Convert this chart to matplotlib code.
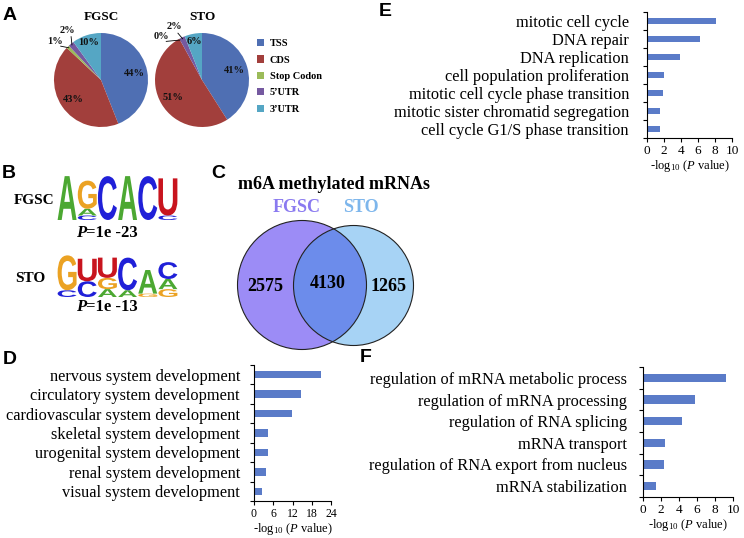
import numpy as np
import matplotlib.pyplot as plt
from matplotlib.patches import Circle, PathPatch, Rectangle
from matplotlib.textpath import TextPath
from matplotlib.font_manager import FontProperties
from matplotlib.transforms import Affine2D

plt.rcParams['font.family'] = 'Liberation Serif'
plt.rcParams['mathtext.fontset'] = 'custom'
plt.rcParams['mathtext.rm'] = 'Liberation Serif'
plt.rcParams['mathtext.it'] = 'Liberation Serif:italic'

# ---- data ----
# A: peak distribution (%)
regions = ['TSS', 'CDS', 'Stop Codon', '5\u2019UTR', '3\u2019UTR']
fgsc_pct = [44, 43, 1, 2, 10]
sto_pct = [41, 51, 0, 2, 6]
region_colors = ['#4F6FB3', '#A23F3C', '#9BBB59', '#7559A0', '#55A6C4']

# B: motifs, letters per position from bottom to top (bits)
fgsc_motif = [[('A', 1.95)],
              [('C', 0.2), ('A', 0.3), ('G', 1.25)],
              [('C', 1.95)],
              [('A', 1.95)],
              [('C', 1.95)],
              [('C', 0.2), ('U', 1.65)]]
sto_motif = [[('C', 0.3), ('G', 1.55)],
             [('C', 0.7), ('U', 1.0)],
             [('A', 0.35), ('G', 0.5), ('U', 0.9)],
             [('A', 0.3), ('C', 1.45)],
             [('G', 0.15), ('A', 1.05)],
             [('G', 0.35), ('A', 0.45), ('C', 0.75)]]
motif_pvals = ['=1e -23', '=1e -13']

# C: venn counts
only_fgsc = 2575
both = 4130
only_sto = 1265

# D, E, F: GO terms, -log10(P)
d_terms = ['nervous system development', 'circulatory system development',
           'cardiovascular system development', 'skeletal system development',
           'urogenital system development', 'renal system development',
           'visual system development']
d_vals = [20.8, 14.6, 11.9, 4.4, 4.3, 3.6, 2.4]

e_terms = ['mitotic cell cycle', 'DNA repair', 'DNA replication',
           'cell population proliferation', 'mitotic cell cycle phase transition',
           'mitotic sister chromatid segregation', 'cell cycle G1/S phase transition']
e_vals = [8.1, 6.2, 3.9, 1.95, 1.9, 1.55, 1.5]

f_terms = ['regulation of mRNA metabolic process', 'regulation of mRNA processing',
           'regulation of RNA splicing', 'mRNA transport',
           'regulation of RNA export from nucleus', 'mRNA stabilization']
f_vals = [9.25, 5.8, 4.3, 2.4, 2.3, 1.4]

W, H = 744, 538
fig = plt.figure(figsize=(W / 100, H / 100), dpi=100)


def px_axes(x0, y0, x1, y1):
    return fig.add_axes([x0 / W, 1 - y1 / H, (x1 - x0) / W, (y1 - y0) / H])


def px_text(x, y, s, **kw):
    kw.setdefault('ha', 'center')
    kw.setdefault('va', 'center')
    return fig.text(x / W, 1 - y / H, s, **kw)


# panel letters
for lab, x, y in [('A', 10, 15), ('B', 9, 174), ('C', 218, 173),
                  ('D', 10, 360), ('E', 385, 12), ('F', 366, 358)]:
    px_text(x, y, lab, family='Liberation Sans', weight='bold', size=14)

# ---- A: pies ----
def draw_pie(ax, vals, shifts):
    wedges, _ = ax.pie(vals, colors=region_colors, startangle=90,
                       counterclock=False, wedgeprops=dict(linewidth=0))
    ax.set_xlim(-1, 1)
    ax.set_ylim(-1, 1)
    for k, (w, v) in enumerate(zip(wedges, vals)):
        mid = np.deg2rad((w.theta1 + w.theta2) / 2)
        if v >= 5:
            r = 0.72 if v >= 20 else 0.84
            ax.text(r * np.cos(mid), r * np.sin(mid), '%d%%' % v, ha='center',
                    va='center', fontsize=7.5, fontweight='bold', color='#111')
        else:
            ang = mid + np.deg2rad(shifts.get(k, 0))
            ax.plot([0.97 * np.cos(mid), 1.12 * np.cos(ang)],
                    [0.97 * np.sin(mid), 1.12 * np.sin(ang)],
                    color='k', lw=0.6, clip_on=False)
            ax.text(1.27 * np.cos(ang), 1.27 * np.sin(ang), '%d%%' % v,
                    ha='center', va='center', fontsize=7.5, fontweight='bold',
                    color='#111')
    return wedges


ax_a1 = px_axes(54, 32, 148, 128)
draw_pie(ax_a1, fgsc_pct, {2: 5, 3: -5})
ax_a2 = px_axes(155, 32, 249, 128)
draw_pie(ax_a2, sto_pct, {2: 14, 3: 2})
px_text(101, 17, 'FGSC', fontsize=9.5, fontweight='bold')
px_text(202, 17, 'STO', fontsize=9.5, fontweight='bold')

handles = [Rectangle((0, 0), 1, 1, fc=c, ec='none') for c in region_colors]
fig.legend(handles, regions, loc='upper left', bbox_to_anchor=(257 / W, 1 - 39 / H),
           frameon=False, borderpad=0, borderaxespad=0, handlelength=0.7,
           handleheight=0.7, handletextpad=0.5, labelspacing=0.68,
           prop=FontProperties(family='Liberation Serif', weight='bold', size=7.5))

# ---- B: motif logos ----
logo_colors = {'A': '#4CA832', 'C': '#2020D8', 'G': '#EBA223', 'U': '#C8141E'}
logo_font = FontProperties(family='Liberation Sans', weight='bold')


def draw_logo(ax, motif):
    for i, stack in enumerate(motif):
        y = 0
        for letter, h in stack:
            tp = TextPath((0, 0), letter, size=1, prop=logo_font)
            bb = tp.get_extents()
            tr = (Affine2D().translate(-bb.x0, -bb.y0)
                  .scale(0.94 / bb.width, h / bb.height).translate(i + 0.03, y))
            ax.add_patch(PathPatch(tr.transform_path(tp), fc=logo_colors[letter], lw=0))
            y += h
    ax.set_xlim(0, len(motif))
    ax.set_ylim(0, 2)
    ax.axis('off')


draw_logo(px_axes(57, 175, 178, 220), fgsc_motif)
draw_logo(px_axes(57, 252, 178, 297), sto_motif)
px_text(34, 200, 'FGSC', fontsize=11, fontweight='bold')
px_text(30, 278, 'STO', fontsize=11, fontweight='bold')
for pv, y in zip(motif_pvals, [233, 307]):
    px_text(86, y, 'P', ha='right', fontsize=12, fontweight='bold', fontstyle='italic')
    px_text(86, y, pv, ha='left', fontsize=12, fontweight='bold')

# ---- C: venn ----
axc = px_axes(228, 215, 425, 355)
axc.set_xlim(228, 425)
axc.set_ylim(355, 215)
axc.axis('off')
cf = Circle((302, 285), 64.5, fc='#9C8CF6', ec='none')
cs = Circle((353.5, 285.5), 60, fc='#A7D3F5', ec='none')
axc.add_patch(cf)
axc.add_patch(cs)
ov = Circle((302, 285), 64.5, fc='#6C8CEB', ec='none')
axc.add_patch(ov)
ov.set_clip_path(cs)
axc.add_patch(Circle((302, 285), 64.5, fill=False, ec='#222', lw=0.8))
axc.add_patch(Circle((353.5, 285.5), 60, fill=False, ec='#222', lw=0.8))
left_edge_s = 353.5 - 60
right_edge_f = 302 + 64.5
axc.text((302 - 64.5 + left_edge_s) / 2, 286, str(only_fgsc), ha='center', va='center',
         fontsize=13, fontweight='bold')
axc.text((left_edge_s + right_edge_f) / 2 - 2, 283, str(both), ha='center', va='center',
         fontsize=13, fontweight='bold')
axc.text((right_edge_f + 353.5 + 60) / 2 - 1, 286, str(only_sto), ha='center', va='center',
         fontsize=13, fontweight='bold')
px_text(334, 185, 'm6A methylated mRNAs', fontsize=13, fontweight='bold')
px_text(297, 207, 'FGSC', fontsize=13, fontweight='bold', color='#8A7AF0')
px_text(361, 207, 'STO', fontsize=13, fontweight='bold', color='#7DB6EC')

# ---- D, E, F: bar charts ----
bar_color = '#5A7BC8'


def draw_bars(ax, terms, vals, xmax, step, pad, tick_fs):
    n = len(terms)
    ax.barh(np.arange(n), vals, height=0.38, color=bar_color)
    ax.set_xlim(0, xmax)
    ax.set_ylim(n - 0.5, -0.5)
    ax.set_xticks(np.arange(0, xmax + 0.1, step))
    ax.set_yticks(np.arange(n))
    ax.set_yticklabels(terms, fontsize=11.8)
    ax.set_yticks(np.arange(-0.5, n), minor=True)
    ax.tick_params(axis='y', which='major', length=0, pad=pad)
    ax.tick_params(axis='y', which='minor', length=3, width=0.8, direction='out')
    ax.tick_params(axis='x', length=3, width=0.8, direction='out', pad=2,
                   labelsize=tick_fs)
    for s in ['top', 'right']:
        ax.spines[s].set_visible(False)
    for s in ['left', 'bottom']:
        ax.spines[s].set_linewidth(0.8)
    ax.set_xlabel('-log$_{10}$ ($P$ value)', fontsize=9, labelpad=1)


draw_bars(px_axes(254, 365, 331, 501), d_terms, d_vals, 24, 6, 10, 8.5)
draw_bars(px_axes(647, 12, 732, 138), e_terms, e_vals, 10, 2, 13, 9.5)
draw_bars(px_axes(643, 367, 733, 497), f_terms, f_vals, 10, 2, 11.5, 9.5)

fig.savefig('out.png', dpi=100)
